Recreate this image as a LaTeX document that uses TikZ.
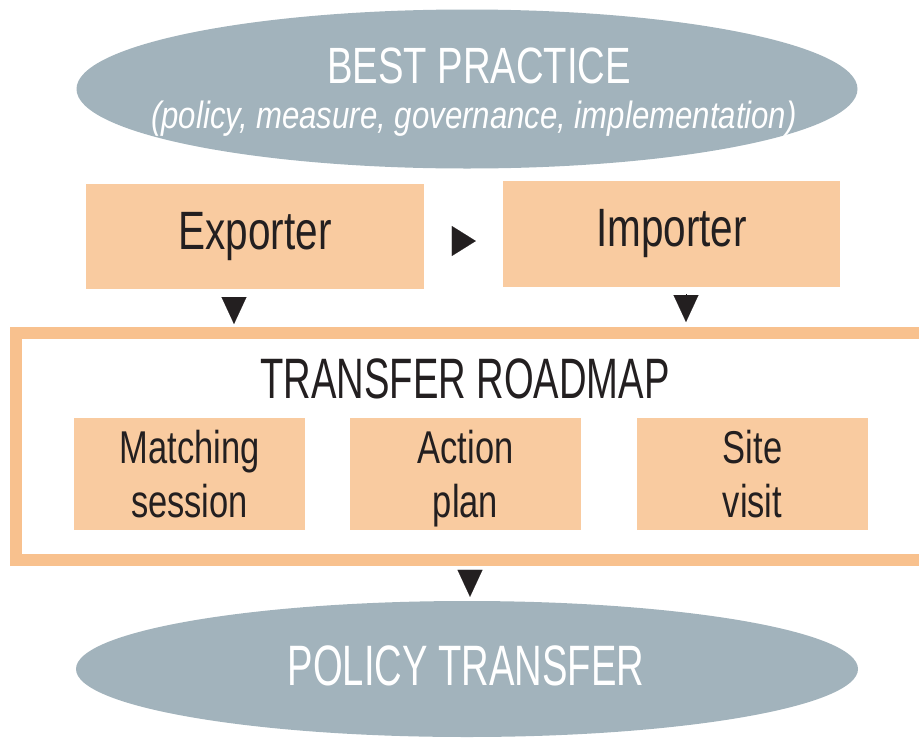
\documentclass[tikz,border=0pt]{standalone}
\usepackage{fontspec}
\setmainfont{Liberation Sans}
\newfontfamily\capsf[FakeStretch=0.67]{Liberation Sans}
\newfontfamily\lowsf[FakeStretch=0.75]{Liberation Sans}
\newfontfamily\subsf[FakeStretch=0.82]{Liberation Sans}
\usetikzlibrary{shapes.geometric}
\usetikzlibrary{arrows.meta}

\definecolor{slate}{HTML}{A2B3BC}
\definecolor{peach}{HTML}{F9CBA0}
\definecolor{peachline}{HTML}{F8C18E}
\definecolor{ink}{HTML}{231F20}

\tikzset{
	oval/.style={ellipse, fill=slate, inner sep=0pt},
	ovaltext/.style={text=white, anchor=base, inner sep=0pt},
	partner/.style={fill=peach, inner sep=0pt, text=ink, minimum width=337pt, minimum height=106pt,
		font=\lowsf\fontsize{54}{60}\selectfont},
	stepbox/.style={fill=peach, inner sep=0pt, text=ink, align=center, minimum width=231pt, minimum height=112pt,
		text height=86pt, text depth=0pt, font=\lowsf\fontsize{46}{54}\selectfont},
	tipdown/.style={ink, line width=0.1pt, -{Triangle[length=27pt, width=25pt]}},
	tipright/.style={ink, line width=0.1pt, -{Triangle[length=24pt, width=30pt]}}
}

\begin{document}
\begin{tikzpicture}[x=1pt, y=-1pt]

	\clip (0, 0) rectangle (919, 737);

	% top and bottom ovals
	\node[oval, minimum width=781pt, minimum height=159pt] (best) at (467, 89) {};
	\node[ovaltext, font=\lowsf\fontsize{51}{56}\selectfont] (besttitle) at (479, 83) {BEST PRACTICE};
	\node[ovaltext, font=\subsf\itshape\fontsize{38}{42}\selectfont] (bestsub) at (474, 128)
		{(policy, measure, governance, implementation)};

	\node[oval, minimum width=782pt, minimum height=136pt] (pol) at (467, 669) {};
	\node[ovaltext, font=\capsf\fontsize{57}{62}\selectfont] (poltitle) at (466, 685) {POLICY TRANSFER};

	% exporter and importer
	\node[partner, minimum width=338pt, minimum height=105pt] (exp) at (255, 236.5) {Exporter};
	\node[partner] (imp) at (671.5, 234) {Importer};

	% roadmap frame
	\node[draw=peachline, line width=12pt, minimum width=914pt, minimum height=227pt, inner sep=0pt] (road) at (473, 446.5) {};
	\node[anchor=base, inner sep=0pt, text=ink, font=\capsf\fontsize{57}{62}\selectfont] (roadtitle) at (465, 398) {TRANSFER ROADMAP};

	\node[stepbox] (match) at (189.5, 474) {Matching\\session};
	\node[stepbox] (act) at (465.5, 474) {Action\\plan};
	\node[stepbox] (site) at (752.5, 474) {Site\\visit};

	% arrow heads
	\coordinate (ei) at (0, 241);
	\coordinate (expin) at (234, 0);
	\coordinate (impin) at (686, 0);
	\coordinate (polin) at (470, 0);

	\draw[tipright, shorten <=28pt, shorten >=27pt] (exp.east |- ei) -- (imp.west |- ei);
	\draw[tipdown, shorten <=8pt, shorten >=3pt] (expin |- exp.south) -- (expin |- road.north);
	\draw[tipdown, shorten <=7pt, shorten >=5pt] (impin |- imp.south) -- (impin |- road.north);
	\draw[tipdown, shorten <=4pt, shorten >=4pt] (polin |- road.south) -- (polin |- pol.north);
\end{tikzpicture}
\end{document}
